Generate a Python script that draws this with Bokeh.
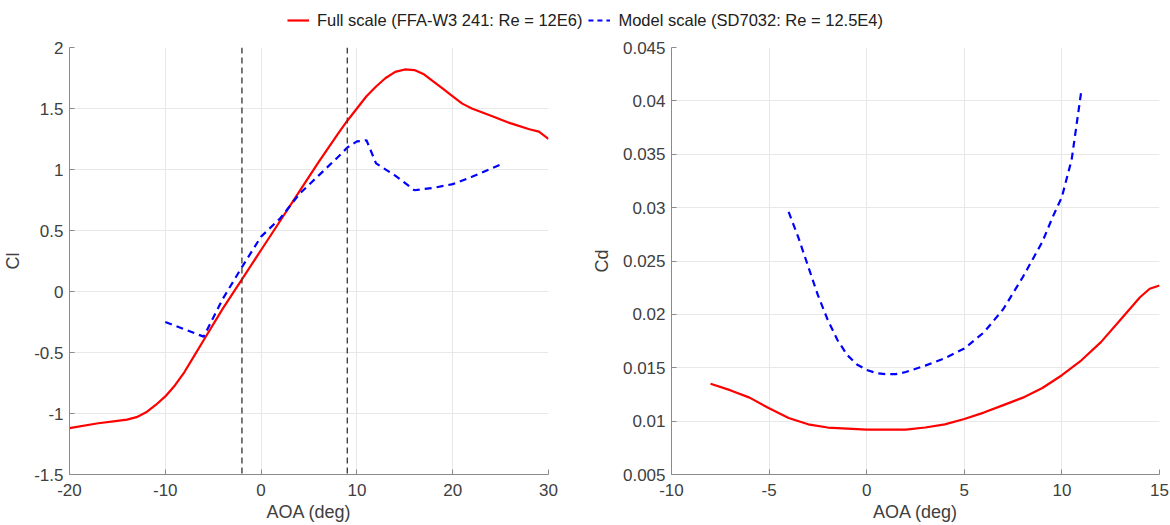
from bokeh.plotting import figure
from bokeh.layouts import column, row
from bokeh.models import Span, Range1d, FixedTicker, Legend, LegendItem
from bokeh.embed import file_html
from bokeh.resources import INLINE

# ---- data ----
cl_full_aoa = [-20, -17, -15, -14, -13, -12, -11, -10, -9, -8, -7, -6, -4, -2, 0, 2, 4, 6, 8, 9, 10, 11, 12, 13, 14, 15, 16, 17, 18, 19, 20, 21, 22, 24, 26, 28, 29, 30]
cl_full = [-1.12, -1.08, -1.06, -1.05, -1.03, -0.99, -0.93, -0.86, -0.77, -0.66, -0.53, -0.40, -0.14, 0.10, 0.34, 0.58, 0.82, 1.06, 1.29, 1.40, 1.50, 1.60, 1.68, 1.75, 1.80, 1.82, 1.815, 1.78, 1.72, 1.66, 1.60, 1.54, 1.50, 1.44, 1.38, 1.33, 1.31, 1.25]

cl_model_aoa = [-10, -6, -4, -2, 0, 2, 4, 6, 8, 9, 10, 11, 12, 14, 16, 18, 20, 22, 25]
cl_model = [-0.25, -0.37, -0.06, 0.20, 0.45, 0.60, 0.80, 0.95, 1.10, 1.18, 1.23, 1.24, 1.05, 0.95, 0.83, 0.85, 0.88, 0.94, 1.04]

cd_full_aoa = [-8, -7, -6, -5, -4, -3, -2, -1, 0, 1, 2, 3, 4, 5, 6, 7, 8, 9, 10, 11, 12, 13, 14, 14.5, 15]
cd_full = [0.0135, 0.0129, 0.0122, 0.0112, 0.0103, 0.0097, 0.0094, 0.0093, 0.0092, 0.0092, 0.0092, 0.0094, 0.0097, 0.0102, 0.0108, 0.0115, 0.0122, 0.0131, 0.0143, 0.0157, 0.0174, 0.0195, 0.0216, 0.0224, 0.0227]

cd_model_aoa = [-4, -3.5, -3, -2.5, -2, -1.5, -1, -0.5, 0, 0.5, 1, 1.5, 2, 3, 4, 5, 6, 7, 8, 9, 9.5, 10, 10.5, 11]
cd_model = [0.0296, 0.0272, 0.0245, 0.0218, 0.0195, 0.0176, 0.0162, 0.0153, 0.0148, 0.0145, 0.0144, 0.0144, 0.0146, 0.0152, 0.0159, 0.0168, 0.0183, 0.0205, 0.0235, 0.0268, 0.0290, 0.0310, 0.0345, 0.0410]

stall_lines = [-2, 9]

cl_ticks = [-1.5, -1, -0.5, 0, 0.5, 1, 1.5, 2]
cl_tick_labels = ["-1.5", "-1", "-0.5", "0", "0.5", "1", "1.5", "2"]
cl_x_ticks = [-20, -10, 0, 10, 20, 30]
cl_x_labels = ["-20", "-10", "0", "10", "20", "30"]
cd_ticks = [0.005, 0.01, 0.015, 0.02, 0.025, 0.03, 0.035, 0.04, 0.045]
cd_tick_labels = ["0.005", "0.01", "0.015", "0.02", "0.025", "0.03", "0.035", "0.04", "0.045"]
cd_x_ticks = [-10, -5, 0, 5, 10, 15]
cd_x_labels = ["-10", "-5", "0", "5", "10", "15"]

legend_labels = ["Full scale (FFA-W3 241: Re = 12E6)", "Model scale (SD7032: Re = 12.5E4)"]

FONT = "Liberation Sans"
RED = "#ff0000"
BLUE = "#0000ff"
TXT = "#404040"


def style(p, xt, xl, yt, yl, xlabel, ylabel):
    p.outline_line_color = None
    p.xaxis.ticker = FixedTicker(ticks=xt)
    p.yaxis.ticker = FixedTicker(ticks=yt)
    p.xaxis.major_label_overrides = {t: s for t, s in zip(xt, xl)}
    p.yaxis.major_label_overrides = {t: s for t, s in zip(yt, yl)}
    for ax in (p.xaxis[0], p.yaxis[0]):
        ax.axis_line_color = "#8a8a8a"
        ax.major_tick_line_color = "#8a8a8a"
        ax.major_tick_in = 5
        ax.major_tick_out = 0
        ax.minor_tick_line_color = None
        ax.major_label_text_font = FONT
        ax.major_label_text_font_size = "17px"
        ax.major_label_text_color = TXT
        ax.axis_label_text_font = FONT
        ax.axis_label_text_font_size = "18px"
        ax.axis_label_text_font_style = "normal"
        ax.axis_label_text_color = TXT
    p.xaxis.axis_label = xlabel
    p.yaxis.axis_label = ylabel
    p.xaxis.axis_label_standoff = 3
    p.xaxis.major_label_standoff = 9
    p.yaxis.major_label_standoff = 6
    p.yaxis.axis_label_standoff = 8
    p.grid.grid_line_color = "#e8e8e8"
    p.grid.grid_line_width = 1


p1 = figure(frame_width=479, frame_height=427, x_range=Range1d(-20, 30), y_range=Range1d(-1.5, 2),
            toolbar_location=None, output_backend="svg",
            min_border_left=66, min_border_right=40, min_border_top=7, min_border_bottom=51)
style(p1, cl_x_ticks, cl_x_labels, cl_ticks, cl_tick_labels, "AOA (deg)", "Cl")
for xv in stall_lines:
    p1.add_layout(Span(location=xv, dimension="height", line_color="#404040", line_width=1.4, line_dash="6 4"))
p1.line(cl_full_aoa, cl_full, line_color=RED, line_width=2.2)
p1.line(cl_model_aoa, cl_model, line_color=BLUE, line_width=2.2, line_dash="7 5")

p2 = figure(frame_width=488, frame_height=427, x_range=Range1d(-10, 15), y_range=Range1d(0.005, 0.045),
            toolbar_location=None, output_backend="svg",
            min_border_left=83, min_border_right=14, min_border_top=7, min_border_bottom=51)
style(p2, cd_x_ticks, cd_x_labels, cd_ticks, cd_tick_labels, "AOA (deg)", "Cd")
p2.line(cd_full_aoa, cd_full, line_color=RED, line_width=2.2)
p2.line(cd_model_aoa, cd_model, line_color=BLUE, line_width=2.2, line_dash="7 5")

# legend strip (legend-only renderers placed outside the visible range)
lg = figure(width=1170, height=40, x_range=Range1d(0, 1), y_range=Range1d(0, 1),
            toolbar_location=None, output_backend="svg",
            min_border_left=0, min_border_right=0, min_border_top=0, min_border_bottom=0)
lg.axis.visible = False
lg.grid.visible = False
lg.outline_line_color = None
r1 = lg.line([5, 6], [5, 6], line_color=RED, line_width=2.2)
r2 = lg.line([5, 6], [5, 6], line_color=BLUE, line_width=2.2, line_dash="5 4")
legend = Legend(items=[LegendItem(label=legend_labels[0], renderers=[r1]),
                       LegendItem(label=legend_labels[1], renderers=[r2])],
                location="center", orientation="horizontal",
                border_line_color=None, background_fill_alpha=0,
                label_text_font=FONT, label_text_font_size="16.5px", label_text_color="#202020",
                glyph_width=22, spacing=6, padding=0, margin=0, label_standoff=8)
lg.add_layout(legend, "center")

layout = column(lg, row(p1, p2, spacing=0), spacing=0)
open("out.html", "w").write(file_html(layout, INLINE))
